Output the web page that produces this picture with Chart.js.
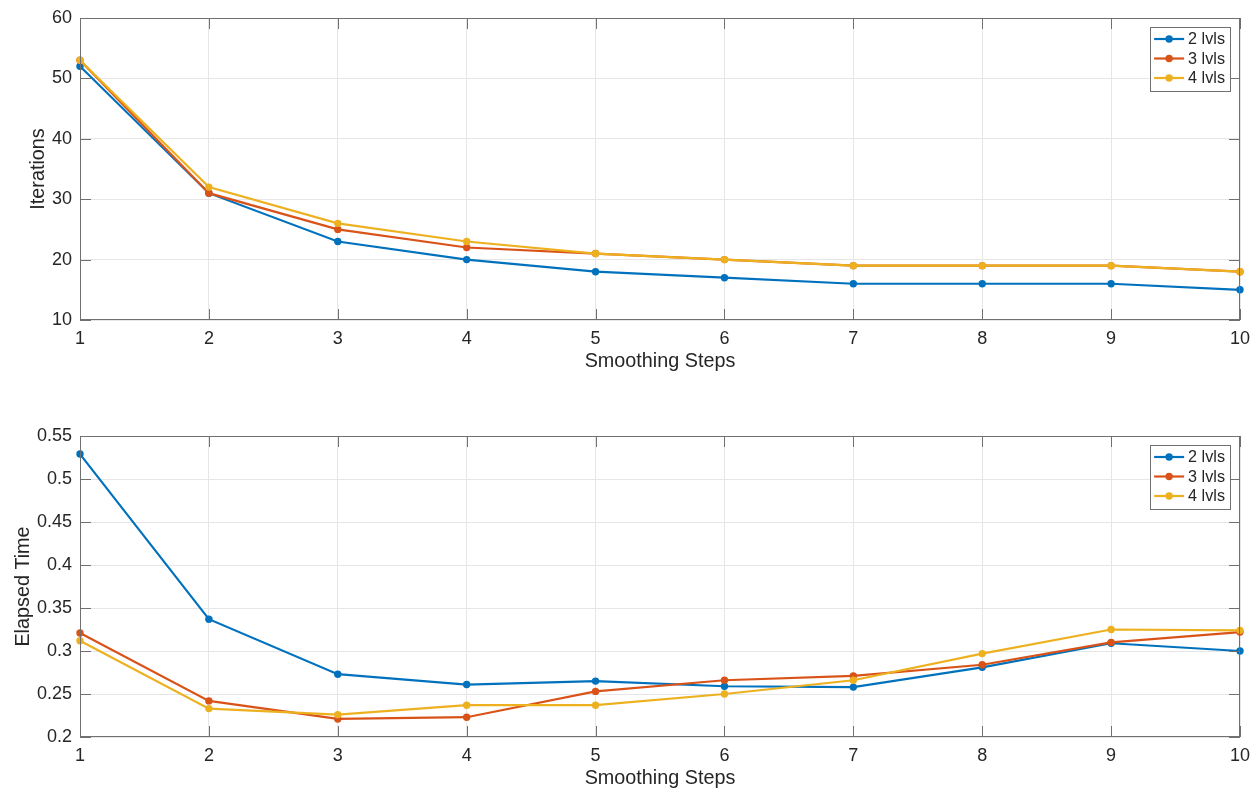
<!DOCTYPE html>
<html>
<head>
<meta charset="utf-8">
<script src="https://cdn.jsdelivr.net/npm/chart.js@4/dist/chart.umd.min.js"></script>
<style>
  html, body { margin: 0; padding: 0; background: #fff; }
  .panel { position: absolute; left: 0; width: 1252px; height: 395px; }
</style>
</head>
<body>
<div class="panel" style="top:0"><canvas id="iterChart"></canvas></div>
<div class="panel" style="top:395px"><canvas id="timeChart"></canvas></div>
<script>
const steps = [1, 2, 3, 4, 5, 6, 7, 8, 9, 10];
const seriesNames = ['2 lvls', '3 lvls', '4 lvls'];
const seriesColors = ['#0072BD', '#D95319', '#EDB120'];

const iter2 = [52, 31, 23, 20, 18, 17, 16, 16, 16, 15];
const iter3 = [53, 31, 25, 22, 21, 20, 19, 19, 19, 18];
const iter4 = [53, 32, 26, 23, 21, 20, 19, 19, 19, 18];

const time2 = [0.529, 0.337, 0.273, 0.261, 0.265, 0.259, 0.258, 0.281, 0.309, 0.300];
const time3 = [0.321, 0.242, 0.221, 0.223, 0.253, 0.266, 0.271, 0.284, 0.310, 0.322];
const time4 = [0.312, 0.233, 0.226, 0.237, 0.237, 0.250, 0.266, 0.297, 0.325, 0.324];

const FONT = 'Helvetica, "Liberation Sans", Arial, sans-serif';
const TEXT = '#262626';
const AXIS = '#707070';
const TICK_LEN = 11;

// MATLAB-style box: frame on all four sides with inward ticks
const boxPlugin = {
  id: 'box',
  afterDatasetsDraw(chart) {
    const {ctx, chartArea: a, scales} = chart;
    ctx.save();
    ctx.strokeStyle = AXIS;
    ctx.lineWidth = 1;
    ctx.strokeRect(a.left + 0.5, a.top + 0.5, a.width - 1, a.height - 1);
    ctx.beginPath();
    scales.x.ticks.forEach(t => {
      const px = Math.round(scales.x.getPixelForValue(t.value)) + 0.5;
      ctx.moveTo(px, a.bottom); ctx.lineTo(px, a.bottom - TICK_LEN);
      ctx.moveTo(px, a.top); ctx.lineTo(px, a.top + TICK_LEN);
    });
    scales.y.ticks.forEach(t => {
      const py = Math.round(scales.y.getPixelForValue(t.value)) + 0.5;
      ctx.moveTo(a.left, py); ctx.lineTo(a.left + TICK_LEN, py);
      ctx.moveTo(a.right, py); ctx.lineTo(a.right - TICK_LEN, py);
    });
    ctx.stroke();
    ctx.restore();
  }
};

// boxed legend in the upper right corner of the plot area
const boxLegend = {
  id: 'boxLegend',
  afterDraw(chart) {
    const {ctx, chartArea: a} = chart;
    const sets = chart.data.datasets;
    ctx.save();
    ctx.font = '16.2px ' + FONT;
    const textW = Math.max(...sets.map(d => ctx.measureText(d.label).width));
    const rowH = 19.5;
    const w = 38 + textW + 5;
    const h = rowH * sets.length + 5;
    const x0 = a.right - 10 - w;
    const y0 = a.top + 9;
    ctx.fillStyle = '#fff';
    ctx.fillRect(x0, y0, w, h);
    ctx.strokeStyle = AXIS;
    ctx.lineWidth = 1;
    ctx.strokeRect(Math.round(x0) + 0.5, Math.round(y0) + 0.5, Math.round(w), Math.round(h));
    sets.forEach((d, i) => {
      const cy = y0 + 12 + i * rowH;
      ctx.strokeStyle = d.borderColor;
      ctx.lineWidth = 2.2;
      ctx.beginPath();
      ctx.moveTo(x0 + 4, cy); ctx.lineTo(x0 + 34, cy);
      ctx.stroke();
      ctx.fillStyle = d.borderColor;
      ctx.beginPath();
      ctx.arc(x0 + 19, cy, 3.7, 0, Math.PI * 2);
      ctx.fill();
      ctx.fillStyle = TEXT;
      ctx.textBaseline = 'middle';
      ctx.textAlign = 'left';
      ctx.fillText(d.label, x0 + 38, cy + 1);
    });
    ctx.restore();
  }
};

function makeDatasets(lists) {
  return lists.map((vals, i) => ({
    label: seriesNames[i],
    data: steps.map((s, k) => ({x: s, y: vals[k]})),
    borderColor: seriesColors[i],
    backgroundColor: seriesColors[i],
    borderWidth: 2.2,
    pointRadius: 3.7,
    pointHoverRadius: 3.7,
    pointBorderWidth: 0,
    tension: 0,
    clip: false,
    order: lists.length - 1 - i
  }));
}

function makeChart(canvasId, lists, yTitle, yMin, yMax, yStep, opts) {
  return new Chart(document.getElementById(canvasId), {
    type: 'line',
    data: {datasets: makeDatasets(lists)},
    options: {
      responsive: true,
      maintainAspectRatio: false,
      animation: false,
      events: [],
      layout: {padding: {top: opts.top, right: 12, left: 0, bottom: 0}},
      plugins: {legend: {display: false}, tooltip: {enabled: false}},
      scales: {
        x: {
          type: 'linear',
          min: 1, max: 10,
          border: {display: false},
          grid: {color: '#e6e6e6', drawTicks: false},
          ticks: {
            stepSize: 1, autoSkip: false, maxRotation: 0, padding: 8,
            color: TEXT, font: {family: FONT, size: 18}
          },
          title: {
            display: true, text: 'Smoothing Steps', color: TEXT,
            font: {family: FONT, size: 19.8},
            padding: {top: 0, bottom: opts.xTitlePad}
          },
          afterFit(s) {
            s.height = opts.xHeight;
            s.paddingLeft = 0;
            s.paddingRight = 0;
          }
        },
        y: {
          min: yMin, max: yMax,
          border: {display: false},
          grid: {color: '#e6e6e6', drawTicks: false},
          ticks: {
            stepSize: yStep, padding: 8, color: TEXT,
            font: {family: FONT, size: 18},
            callback: v => String(Number(v.toFixed(2)))
          },
          title: {
            display: true, text: yTitle, color: TEXT,
            font: {family: FONT, size: 19.8},
            padding: {top: opts.yTitlePad, bottom: 0}
          },
          afterFit(s) {
            s.width = 80;
            s.paddingTop = 0;
            s.paddingBottom = 0;
          }
        }
      }
    },
    plugins: [boxPlugin, boxLegend]
  });
}

makeChart('iterChart', [iter2, iter3, iter4], 'Iterations', 10, 60, 10,
  {top: 18, xHeight: 75, xTitlePad: 22, yTitlePad: 26.6});
makeChart('timeChart', [time2, time3, time4], 'Elapsed Time', 0.2, 0.55, 0.05,
  {top: 41, xHeight: 53, xTitlePad: 0, yTitlePad: 11.4});
</script>
</body>
</html>
